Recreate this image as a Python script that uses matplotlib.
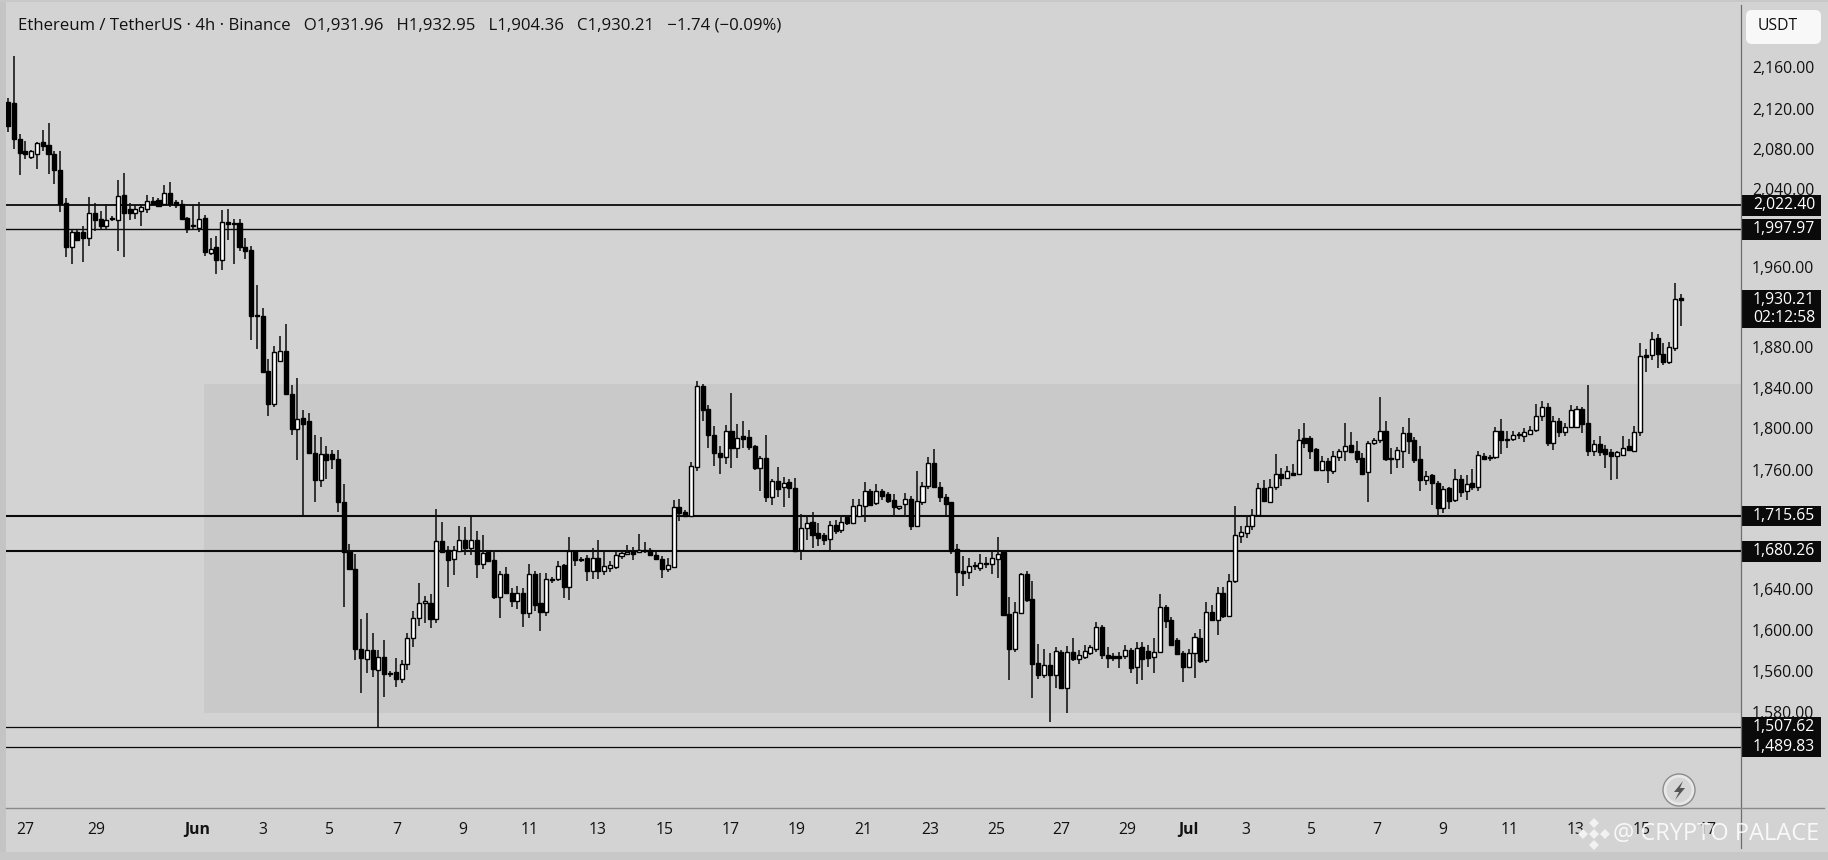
import matplotlib
matplotlib.use("Agg")
import matplotlib.pyplot as plt
from matplotlib.patches import Rectangle, FancyBboxPatch, Circle, Polygon

plt.rcParams['font.family'] = ['Open Sans', 'DejaVu Sans']

opens = [
 2126,2125,2090,2078,2072,2075,2087,2084,2075,2059,2026,1983,
 1997,1997,1991,2016,2010,2003,2010,2009,2034,2020,2016,2018,
 2020,2028,2029,2025,2036,2027,2025,2011,2003,2001,2011,1977,
 1983,1970,2007,2006,2006,1983,1980,1915,1914,1860,1827,1870,
 1879,1837,1802,1813,1810,1778,1752,1777,1777,1772,1730,1680,
 1663,1584,1574,1583.5,1563,1576,1560,1561,1554,1569,1595,1615,
 1630,1630,1614,1691,1682,1673,1681,1692,1684,1692,1668,1680,
 1672,1636,1658,1640,1632,1640,1620,1658,1630,1621,1653,1653,
 1667,1645,1681,1673,1674,1661,1674,1661,1664,1665,1676,1678,
 1681,1680,1682,1682,1677,1673,1663,1665,1725,1720,1716,1764,
 1845,1822,1796,1778,1774,1800,1783,1795,1794,1785,1763,1773,
 1735,1751,1745,1750,1744,1682,1704,1710,1699,1697,1693,1707,
 1702,1715,1709,1716,1726,1741,1729,1741,1738,1732,1724,1728,
 1733,1706,1730,1746,1768,1745,1735,1730,1683,1661,1660,1666,1664,1669,
 1668,1673,1680,1619,1584,1620,1658,1634,1570,1558,1568,1558,
 1581,1545,1581,1574,1576,1580,1584,1606,1578,1577,1577,1577,
 1583,1566,1586,1582,1576,1581,1626,1613,1593,1580,1566,
 1580,1595,1573,1621,1613,1640,1617,1651,1696,1699,1706,
 1717,1744,1730,1745,1758,1754,1758,1758,1793,1793,1782,1761,
 1770,1760,1774,1780,1786,1780,1773,1759,1788,1791,1800,1773,
 1772,1780,1798,1791,1772,1752,1757,1749,1724,1744,1732,1753,
 1741,1749,1745,1775,1773,1774,1800,1792,1792,1796,1795,1797,1801,1815,
 1824,1788,1810,1799,1804,1804,1822,1808,1780,1787,1782,1779,
 1775,1776,1785,1780,1799,1875,1875,1892,1876,1869,1882,1932,
]
highs = [
 2130,2172,2095,2088,2079,2087,2099,2105,2078,2078,2031,2000,
 2000,2003,2032,2026,2018,2025,2013,2049,2056,2026,2024,2025,
 2034,2032,2031,2044,2047,2029,2029,2012,2024,2027,2014,1991,
 1993,2019,2020,2010,2010,1991,1984,1945,1922,1872,1884,1894,
 1906,1846,1853,1821,1818,1796,1794,1785,1781,1781,1748,1688,
 1678,1614,1620,1600,1583,1593,1562,1575,1573,1600,1622,1649,
 1637,1639,1723,1710,1686,1686,1706,1705,1715,1701,1697,1681,
 1682,1661,1665,1644,1646,1644,1668,1661,1659,1659,1655,1671,
 1668,1695,1682,1675,1677,1684,1692,1680,1671,1681,1681,1687,
 1685,1698,1690,1684,1680,1676,1674,1732,1733,1722,1769,1850,
 1847,1826,1805,1785,1806,1838,1807,1810,1801,1786,1775,1796,
 1753,1764,1755,1753,1754,1718,1717,1720,1709,1699,1711,1712,
 1716,1717,1733,1733,1750,1743,1748,1743,1740,1738,1726,1739,
 1736,1760,1750,1774,1782,1750,1738,1730,1688,1676,1674,1670,1678,1675,
 1680,1695,1681,1636,1631,1659,1661,1651,1589,1584,1580,1586,
 1583,1587,1595,1583,1588,1588,1611,1608,1586,1580,1581,1588,
 1585,1591,1591,1588,1595,1639,1628,1616,1595,1582,1584,
 1600,1604,1631,1628,1645,1645,1658,1726,1706,1717,1723,
 1749,1752,1753,1777,1763,1765,1767,1802,1808,1795,1783,1775,
 1773,1780,1782,1808,1799,1790,1778,1790,1793,1834,1810,1783,
 1784,1804,1813,1794,1785,1760,1758,1751,1746,1745,1762,1757,
 1757,1762,1780,1778,1776,1804,1812,1800,1800,1799,1803,1805,1827,1830,
 1828,1815,1813,1808,1826,1825,1824,1846,1791,1795,1786,1782,
 1780,1795,1792,1805,1887,1881,1898,1896,1887,1888,1947,1936,
]
lows = [
 2097,2080,2054,2070,2070,2060,2078,2055,2045,2017,1973,1966,
 1989,1968,1984,1998,2000,1999,2008,1979,1973,2009,2010,2003,
 2016,2023,2022,2023,2022,2021,2009,1996,2000,1997,1974,1975,
 1956,1960,1989,1966,1979,1971,1890,1881,1859,1815,1824,1870,
 1837,1796,1771,1717,1778,1730,1745,1753,1762,1720,1626,1662,
 1573,1540,1560,1556,1507,1536,1556,1546,1550,1563,1586,1607,
 1610,1605,1610,1680,1645,1657,1680,1677,1677,1654,1663,1670,
 1634,1615,1639,1626,1624,1606,1615,1622,1602,1617,1649,1651,
 1635,1633,1666,1670,1651,1653,1653,1657,1660,1663,1673,1677,
 1672,1680,1679,1676,1672,1654,1660,1664,1711,1715,1715,1760,
 1810,1783,1765,1758,1767,1763,1773,1783,1781,1761,1741,1730,
 1727,1735,1725,1734,1681,1672,1692,1684,1686,1687,1681,1698,
 1699,1707,1709,1715,1710,1726,1727,1732,1729,1715,1722,1716,
 1702,1705,1727,1743,1744,1730,1717,1678,1637,1646,1653,1662,1661,1664,
 1658,1654,1617,1553,1581,1619,1631,1535,1554,1555,1512,1545,
 1544,1521,1572,1569,1574,1578,1581,1574,1565,1572,1565,1574,
 1560,1549,1553,1566,1560,1581,1605,1587,1578,1551,1565,
 1555,1570,1570,1612,1598,1615,1616,1649,1689,1694,1702,
 1715,1730,1729,1742,1746,1753,1756,1758,1783,1772,1760,1760,
 1749,1758,1770,1770,1778,1768,1757,1730,1786,1788,1770,1758,
 1763,1763,1777,1768,1741,1747,1727,1715,1719,1723,1730,1735,
 1732,1742,1741,1771,1770,1772,1777,1783,1790,1792,1789,1796,1799,1810,
 1785,1781,1794,1795,1803,1803,1798,1775,1775,1775,1763,1752,
 1753,1775,1780,1780,1795,1859,1871,1863,1866,1867,1879,1904.36,
]
closes = [
 2102,2090,2076,2075,2078,2086,2083,2075,2059,2025,1983,1997,
 1989,1991,2016,2009,2003,2009,2011,2033,2016,2016,2020,2022,
 2028,2025,2023,2036,2025,2024,2010,2000,2004,2010,1978,1981,
 1970,2007,2005,2005,1983,1979,1914,1914,1859,1827,1878,1879,
 1837,1802,1812,1807,1778,1752,1777,1771,1772,1730,1680,1663,
 1584,1575,1583,1564,1576,1559,1559,1554,1569,1595,1615,1630,
 1630.5,1614,1691,1680,1672,1682,1692,1684,1692,1668,1679,1671,
 1636,1658,1640,1632,1640,1620,1658,1628,1621,1653,1652,1666,
 1645,1681,1672,1672,1661,1674,1661,1666,1667,1677,1679,1680,
 1678,1682,1681,1677,1673,1663,1667,1725,1719,1716,1765,1845,
 1821,1796,1778,1774,1800,1783,1793,1792,1784,1763,1773,1735,
 1751,1743,1749,1744,1681,1704,1709,1697,1694,1692,1707,1701,
 1710,1709,1726,1727,1741,1727,1741,1736,1731,1725,1724.5,1733,
 1706,1731,1746,1768,1745,1735,1728,1681,1660,1659,1666,1667,1669,1668,
 1674,1678,1618,1584,1621,1658,1633,1569,1558,1568,1558,1582,
 1545,1581,1574,1578,1582,1586,1606,1578,1575,1575,1575,1583,
 1565,1585,1574,1575,1581,1626,1612,1588,1579,1566,1580,
 1596,1572,1621,1613,1640,1617,1651,1697,1700,1706,1717,
 1744,1731,1745,1758,1754,1760,1757,1791,1788,1780,1761,1770,
 1761,1775,1780,1785,1779,1772,1758,1788,1791,1800,1772,1772,
 1781,1798,1790,1771,1752,1756,1749,1724,1743,1731,1753,1740,
 1748,1745,1776,1772,1774,1800,1791,1791,1796,1797,1799,1801,1815,1824,
 1788,1810,1799,1804,1821,1822,1807,1780,1787,1779,1777,1775,
 1779,1783,1781,1799,1874,1873,1891,1876,1869,1883,1931,1930.21,
]

level_prices = [2023.7, 1999.9, 1716.2, 1680.7, 1507.0, 1487.2]
level_labels = ['2,022.40', '1,997.97', '1,715.65', '1,680.26', '1,507.62', '1,489.83']
level_widths = [1.3, 1.0, 1.5, 1.5, 0.9, 0.9]
zone_top, zone_bottom, zone_start = 1846.5, 1520.5, 33.85

price_ticks = [2160.8, 2119.8, 2079.5, 2039.8, 1962.8, 1883.2, 1842.6, 1803.6, 1761.3, 1643.3, 1602.8, 1561.8, 1521.2]
price_tick_labels = ['2,160.00', '2,120.00', '2,080.00', '2,040.00', '1,960.00', '1,880.00',
                     '1,840.00', '1,800.00', '1,760.00', '1,640.00', '1,600.00', '1,560.00', '1,580.00']
date_ticks = [3.0, 15.2, 32.6, 44.0, 55.5, 67.1, 78.6, 90.1, 101.9, 113.5, 124.9, 136.3, 147.8,
              159.3, 170.7, 181.9, 193.3, 204.0, 213.8, 225.2, 236.4, 247.9, 259.4, 270.9, 282.3, 293.6]
date_labels = ['27', '29', 'Jun', '3', '5', '7', '9', '11', '13', '15', '17', '19', '21',
               '23', '25', '27', '29', 'Jul', '3', '5', '7', '9', '11', '13', '15', '17']

W, H = 1828, 860
BG, ZONE = '#d3d3d3', '#c9c9c9'
fig = plt.figure(figsize=(W / 100, H / 100), dpi=100, facecolor=BG)
L, R, B = 6, 1741, 808
ax = fig.add_axes([L / W, (H - B) / H, (R - L) / W, B / H], facecolor=BG)

n = len(closes)
step = (1680.7 - 8) / (n - 1)
ax.set_xlim(-(8 - L) / step, (R - 8) / step)
ax.set_ylim(1426.4, 2227.4)

ax.add_patch(Rectangle((zone_start, zone_bottom), 400, zone_top - zone_bottom,
                       facecolor=ZONE, edgecolor='none', zorder=1))
for p, lw in zip(level_prices, level_widths):
    ax.axhline(p, color='#0a0a0a', lw=lw, zorder=2)

idx = list(range(n))
ax.vlines(idx, lows, highs, color='#111111', lw=1.15, zorder=3)
for i in idx:
    o, c = opens[i], closes[i]
    up = c >= o
    bottom, height = min(o, c), max(abs(c - o), 1.5)
    ax.bar(i, height, bottom=bottom, width=0.7,
           facecolor='white' if up else 'black', edgecolor='black', linewidth=1.0, zorder=4)

ax.yaxis.tick_right()
ax.set_yticks(price_ticks)
ax.set_yticklabels(price_tick_labels)
ax.set_xticks(date_ticks)
ax.set_xticklabels(date_labels)
ax.tick_params(axis='y', length=0, pad=8, labelsize=11.3, labelcolor='#111111')
ax.tick_params(axis='x', length=0, pad=10, labelsize=11.3, labelcolor='#111111')
for t in ax.get_xticklabels():
    if t.get_text() in ('Jun', 'Jul'):
        t.set_fontweight('bold')
for s in ax.spines.values():
    s.set_visible(False)

ytr = ax.get_yaxis_transform()
box_w = 80 / (R - L)
tx = 1 + 12 / (R - L)
for p, lab in zip(level_prices, level_labels):
    ax.add_patch(Rectangle((1, p - 10), box_w, 20, transform=ytr, facecolor='#0a0a0a',
                           edgecolor='none', clip_on=False, zorder=6))
    ax.text(tx, p, lab, transform=ytr, color='white', fontsize=11.3,
            va='center', ha='left', zorder=7, clip_on=False)
last_box_top, last_box_bottom = 1940, 1902.2
ax.add_patch(Rectangle((1, last_box_bottom), box_w, last_box_top - last_box_bottom, transform=ytr,
                       facecolor='#0a0a0a', edgecolor='none', clip_on=False, zorder=6))
ax.text(tx, 1930.2, '1,930.21', transform=ytr, color='white', fontsize=11.3,
        va='center', ha='left', zorder=7, clip_on=False)
ax.text(tx, 1912.2, '02:12:58', transform=ytr, color='white', fontsize=11.3,
        va='center', ha='left', zorder=7, clip_on=False)

# frame, header and overlay elements, in pixel coordinates
ov = fig.add_axes([0, 0, 1, 1], facecolor='none', zorder=10)
ov.set_xlim(0, W)
ov.set_ylim(H, 0)
ov.axis('off')
ov.add_patch(Rectangle((0, 0), 6, H, facecolor='#c4c4c4', edgecolor='none'))
ov.add_patch(Rectangle((0, 852), W, 8, facecolor='#c8c8c8', edgecolor='none'))
ov.add_patch(Rectangle((0, 0), W, 2, facecolor='#c8c8c8', edgecolor='none'))
ov.plot([R, R], [5, 848], color='#6e6e6e', lw=0.9)
ov.plot([L, 1824], [B, B], color='#8a8a8a', lw=1.0)

ov.text(18, 25, 'Ethereum / TetherUS · 4h · Binance   O1,931.96   H1,932.95   L1,904.36   C1,930.21   −1.74 (−0.09%)',
        fontsize=12.1, color='#111111', va='center', ha='left')

ov.add_patch(FancyBboxPatch((1750, 14), 67, 26, boxstyle='round,pad=4,rounding_size=6',
                            facecolor='#f8f8f8', edgecolor='none'))
ov.text(1758, 26, 'USDT', fontsize=11.3, color='#111111', va='center', ha='left')

ov.add_patch(Circle((1679, 790), 16, facecolor='#e8e8e8', edgecolor='#8c8c8c', lw=1.0))
ov.add_patch(Circle((1679, 790), 12.5, facecolor='#d6d6d6', edgecolor='none'))
ov.add_patch(Polygon([(1683, 781), (1674, 792), (1679, 792), (1675, 800), (1685, 788), (1680, 788)],
                     facecolor='#555555', edgecolor='none'))

for dx, dy in [(0, -11), (-11, 0), (11, 0), (0, 11), (0, 0)]:
    ov.plot(1594 + dx, 834 + dy, marker='D', ms=5.5 if (dx or dy) else 5, color='#f2f2f2', mew=0)
ov.text(1613, 834, '@ CRYPTO PALACE', fontsize=17, color='white', alpha=0.85,
        va='center', ha='left')

fig.savefig('out.png', dpi=100, facecolor=BG)
